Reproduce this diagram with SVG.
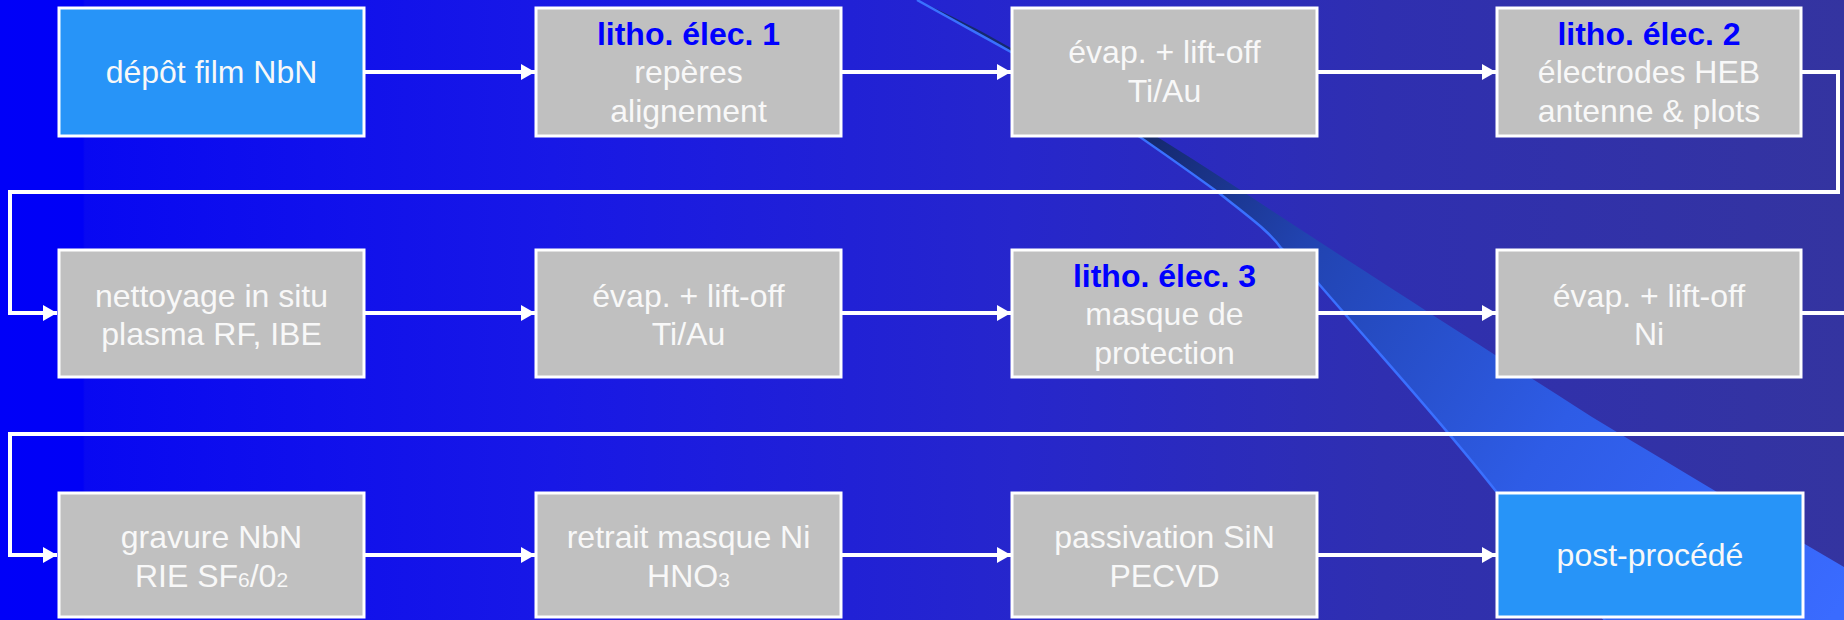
<svg xmlns="http://www.w3.org/2000/svg" width="1844" height="620" viewBox="0 0 1844 620">
  <defs>
    <linearGradient id="bg" x1="0" y1="0" x2="1844" y2="0" gradientUnits="userSpaceOnUse">
      <stop offset="0" stop-color="#0000F8"/>
      <stop offset="0.045" stop-color="#0000F6"/>
      <stop offset="0.046" stop-color="#0808F2"/>
      <stop offset="0.3" stop-color="#1818E6"/>
      <stop offset="0.55" stop-color="#2626CC"/>
      <stop offset="0.75" stop-color="#2F2FB0"/>
      <stop offset="1" stop-color="#3434A0"/>
    </linearGradient>
    <linearGradient id="swoosh" x1="1150" y1="140" x2="1844" y2="600" gradientUnits="userSpaceOnUse">
      <stop offset="0" stop-color="#15296F"/>
      <stop offset="0.22" stop-color="#2143B0"/>
      <stop offset="0.6" stop-color="#2E5CE6"/>
      <stop offset="1" stop-color="#3A6BFF"/>
    </linearGradient>
    <marker id="ah" markerUnits="userSpaceOnUse" markerWidth="15" markerHeight="17" refX="14" refY="8" orient="auto">
      <path d="M0,0 L14,8 L0,16 z" fill="#FFFFFF"/>
    </marker>
    <style>
      .box { stroke: #FFFFFF; stroke-width: 3; }
      .gray { fill: #C0C0C0; }
      .blue { fill: #2794F8; }
      .t { font-family: "Liberation Sans", Arial, sans-serif; font-size: 32px; fill: #F8F8F8; text-anchor: middle; }
      .h { font-family: "Liberation Sans", Arial, sans-serif; font-size: 32px; font-weight: bold; fill: #0000FF; text-anchor: middle; }
      .sub { font-size: 21px; }
      .conn { fill: none; stroke: #FFFFFF; stroke-width: 4; }
    </style>
  </defs>

  <rect x="0" y="0" width="1844" height="620" fill="url(#bg)"/>

  <!-- decorative swoosh -->
  <g id="decor">
    <path d="M917,0 C960,24 990,40 1011,52 C1080,95 1150,143 1219,193 C1250,218 1270,232 1281,248 C1300,265 1310,275 1318,283 C1380,355 1440,420 1495,490 C1540,545 1580,590 1605,620 L1844,620 L1844,567 C1750,512 1660,458 1592,417 C1480,345 1380,282 1245,193 C1180,150 1090,95 1011,48 C980,30 950,15 917,0 Z" fill="url(#swoosh)"/>
    <path d="M917,0 C960,24 990,40 1011,52 C1080,95 1150,143 1219,193 C1250,218 1270,232 1281,248 C1300,265 1310,275 1318,283 C1380,355 1440,420 1495,490 C1540,545 1580,590 1605,620" fill="none" stroke="#3A70FF" stroke-width="2.5"/>
  </g>

  <g id="connectors">
    <line class="conn" x1="365" y1="72" x2="535" y2="72" marker-end="url(#ah)"/>
    <line class="conn" x1="842" y1="72" x2="1011" y2="72" marker-end="url(#ah)"/>
    <line class="conn" x1="1318" y1="72" x2="1496" y2="72" marker-end="url(#ah)"/>
    <path class="conn" d="M1801,72 H1838 V192 H10 V313 H57" marker-end="url(#ah)"/>
    <line class="conn" x1="365" y1="313" x2="535" y2="313" marker-end="url(#ah)"/>
    <line class="conn" x1="842" y1="313" x2="1011" y2="313" marker-end="url(#ah)"/>
    <line class="conn" x1="1318" y1="313" x2="1496" y2="313" marker-end="url(#ah)"/>
    <path class="conn" d="M1801,313 H1860 V434 H10 V555 H57" marker-end="url(#ah)"/>
    <line class="conn" x1="365" y1="555" x2="535" y2="555" marker-end="url(#ah)"/>
    <line class="conn" x1="842" y1="555" x2="1011" y2="555" marker-end="url(#ah)"/>
    <line class="conn" x1="1318" y1="555" x2="1496" y2="555" marker-end="url(#ah)"/>
  </g>

  <g id="n1">
    <rect class="box blue" x="59" y="8" width="305" height="128"/>
    <text class="t" x="211.5" y="83">dépôt film NbN</text>
  </g>
  <g id="n2">
    <rect class="box gray" x="536" y="8" width="305" height="128"/>
    <text class="h" x="688.5" y="45">litho. élec. 1</text>
    <text class="t" x="688.5" y="83">repères</text>
    <text class="t" x="688.5" y="122">alignement</text>
  </g>
  <g id="n3">
    <rect class="box gray" x="1012" y="8" width="305" height="128"/>
    <text class="t" x="1164.5" y="63">évap. + lift-off</text>
    <text class="t" x="1164.5" y="102">Ti/Au</text>
  </g>
  <g id="n4">
    <rect class="box gray" x="1497" y="8" width="304" height="128"/>
    <text class="h" x="1649" y="45">litho. élec. 2</text>
    <text class="t" x="1649" y="83">électrodes HEB</text>
    <text class="t" x="1649" y="122">antenne &amp; plots</text>
  </g>

  <g id="n5">
    <rect class="box gray" x="59" y="250" width="305" height="127"/>
    <text class="t" x="211.5" y="307">nettoyage in situ</text>
    <text class="t" x="211.5" y="345">plasma RF, IBE</text>
  </g>
  <g id="n6">
    <rect class="box gray" x="536" y="250" width="305" height="127"/>
    <text class="t" x="688.5" y="307">évap. + lift-off</text>
    <text class="t" x="688.5" y="345">Ti/Au</text>
  </g>
  <g id="n7">
    <rect class="box gray" x="1012" y="250" width="305" height="127"/>
    <text class="h" x="1164.5" y="287">litho. élec. 3</text>
    <text class="t" x="1164.5" y="325">masque de</text>
    <text class="t" x="1164.5" y="364">protection</text>
  </g>
  <g id="n8">
    <rect class="box gray" x="1497" y="250" width="304" height="127"/>
    <text class="t" x="1649" y="307">évap. + lift-off</text>
    <text class="t" x="1649" y="345">Ni</text>
  </g>

  <g id="n9">
    <rect class="box gray" x="59" y="493" width="305" height="124"/>
    <text class="t" x="211.5" y="548">gravure NbN</text>
    <text class="t" x="211.5" y="587">RIE SF<tspan class="sub">6</tspan>/0<tspan class="sub">2</tspan></text>
  </g>
  <g id="n10">
    <rect class="box gray" x="536" y="493" width="305" height="124"/>
    <text class="t" x="688.5" y="548">retrait masque Ni</text>
    <text class="t" x="688.5" y="587">HNO<tspan class="sub">3</tspan></text>
  </g>
  <g id="n11">
    <rect class="box gray" x="1012" y="493" width="305" height="124"/>
    <text class="t" x="1164.5" y="548">passivation SiN</text>
    <text class="t" x="1164.5" y="587">PECVD</text>
  </g>
  <g id="n12">
    <rect class="box blue" x="1497" y="493" width="306" height="124"/>
    <text class="t" x="1650" y="566">post-procédé</text>
  </g>
</svg>
